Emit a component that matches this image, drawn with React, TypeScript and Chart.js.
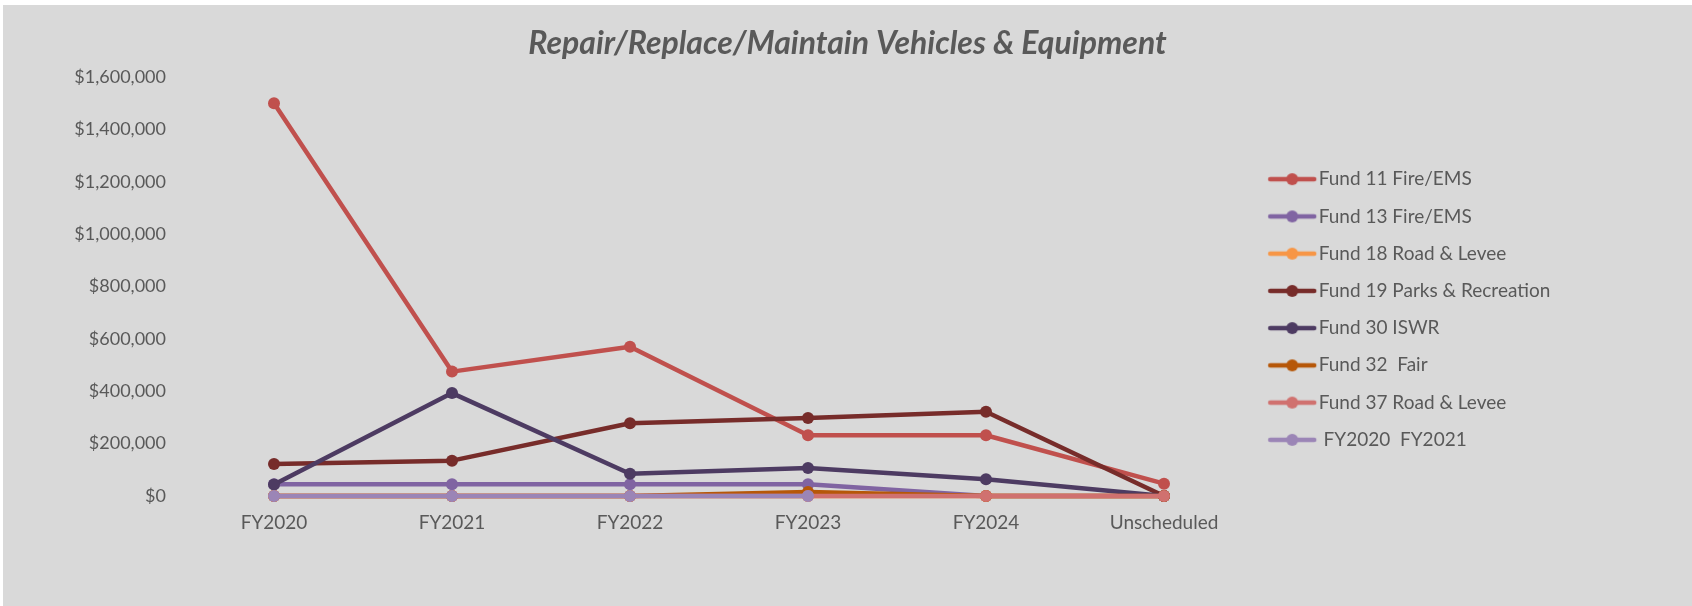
import React, { useEffect, useRef } from "react";
import { Chart, registerables } from "chart.js";

Chart.register(...registerables);

// ---- Data ----
const categories = ["FY2020", "FY2021", "FY2022", "FY2023", "FY2024", "Unscheduled"];

const fund11FireEMS = [1500000, 475000, 570000, 232000, 232000, 47000];
const fund13FireEMS = [45000, 45000, 45000, 45000, 0, 0];
const fund18RoadLevee = [0, 0, 0, 0, 0, 0];
const fund19ParksRec = [122000, 135000, 278000, 298000, 322000, 0];
const fund30ISWR = [44000, 393000, 85000, 107000, 64000, 0];
const fund32Fair = [0, 0, 0, 15000, 0, 0];
const fund37RoadLevee = [0, 0, 0, 0, 0, 0];
const fy2020fy2021 = [0, 0, 0, 0, null, null];

const seriesNames = [
  "Fund 11 Fire/EMS",
  "Fund 13 Fire/EMS",
  "Fund 18 Road & Levee",
  "Fund 19 Parks & Recreation",
  "Fund 30 ISWR",
  "Fund 32  Fair",
  "Fund 37 Road & Levee",
  " FY2020  FY2021",
];
const seriesValues = [
  fund11FireEMS,
  fund13FireEMS,
  fund18RoadLevee,
  fund19ParksRec,
  fund30ISWR,
  fund32Fair,
  fund37RoadLevee,
  fy2020fy2021,
];
const seriesColors = [
  "#C0504D",
  "#8064A2",
  "#F79646",
  "#772C2A",
  "#4D3B62",
  "#B65708",
  "#D0716F",
  "#9B85B6",
];

const yMin = 0;
const yMax = 1600000;
const yStep = 200000;

const titleText = "Repair/Replace/Maintain Vehicles & Equipment";

const TEXT = "#595959";
const FONT = "Lato, 'Open Sans', sans-serif";

function makeSwatch(color: string): HTMLCanvasElement {
  const c = document.createElement("canvas");
  c.width = 60;
  c.height = 16;
  const ctx = c.getContext("2d")!;
  ctx.strokeStyle = color;
  ctx.lineWidth = 4.5;
  ctx.lineCap = "round";
  ctx.beginPath();
  ctx.moveTo(10, 8);
  ctx.lineTo(54, 8);
  ctx.stroke();
  ctx.fillStyle = color;
  ctx.beginPath();
  ctx.arc(32, 8, 6, 0, Math.PI * 2);
  ctx.fill();
  return c;
}

// lets the y tick labels and legend text draw beyond their narrow layout boxes
const unclipPlugin = {
  id: "unclipLabels",
  afterLayout(chart: any) {
    const y = chart.scales.y;
    if (y) y.left = 0;
    if (chart.legend) {
      chart.legend.right = chart.width;
      chart.legend.width = chart.width - chart.legend.left;
    }
  },
};

export default function App() {
  const ref = useRef<HTMLCanvasElement | null>(null);

  useEffect(() => {
    if (!ref.current) return;
    const n = seriesNames.length;
    const swatches = seriesColors.map((c) => makeSwatch(c));
    const datasets = seriesNames.map((name, i) => ({
      label: name,
      data: seriesValues[i],
      borderColor: seriesColors[i],
      backgroundColor: seriesColors[i],
      pointBackgroundColor: seriesColors[i],
      pointBorderColor: seriesColors[i],
      borderWidth: 4.5,
      pointRadius: 6,
      pointBorderWidth: 0,
      pointHoverRadius: 6,
      borderCapStyle: "round" as const,
      borderJoinStyle: "round" as const,
      tension: 0,
      spanGaps: false,
      clip: false as const,
      order: n - i,
    }));

    const chart = new Chart(ref.current, {
      type: "line",
      data: { labels: categories, datasets },
      plugins: [unclipPlugin],
      options: {
        responsive: false,
        animation: false,
        devicePixelRatio: 1,
        layout: { padding: { left: 159, right: 159, top: 8, bottom: 0 } },
        plugins: {
          tooltip: { enabled: false },
          title: {
            display: true,
            text: titleText,
            color: TEXT,
            font: { family: FONT, size: 32, weight: "bold", style: "italic" },
            padding: { top: 11.8, bottom: 13.8 },
          },
          legend: {
            display: true,
            position: "right",
            align: "center",
            maxWidth: 280,
            labels: {
              usePointStyle: true,
              pointStyleWidth: 38,
              padding: 18.24,
              color: TEXT,
              font: { family: FONT, size: 19 },
              generateLabels: (ch: any) =>
                ch.data.datasets.map((ds: any, i: number) => ({
                  text: ds.label,
                  fillStyle: ds.borderColor,
                  strokeStyle: ds.borderColor,
                  lineWidth: 0,
                  pointStyle: swatches[i],
                  hidden: !ch.isDatasetVisible(i),
                  datasetIndex: i,
                  fontColor: TEXT,
                })),
            },
          },
        },
        scales: {
          x: {
            type: "category",
            offset: true,
            grid: { display: false, drawTicks: false },
            border: { display: false },
            ticks: {
              color: TEXT,
              font: { family: FONT, size: 19 },
              padding: 15.6,
              autoSkip: false,
              maxRotation: 0,
            },
            afterFit: (s: any) => {
              s.height = 110;
            },
          },
          y: {
            type: "linear",
            min: yMin,
            max: yMax,
            grid: { display: false, drawTicks: false },
            border: { display: false },
            ticks: {
              stepSize: yStep,
              color: TEXT,
              font: { family: FONT, size: 18 },
              padding: 19,
              callback: (v: any) => "$" + Number(v).toLocaleString("en-US"),
            },
            afterFit: (s: any) => {
              s.width = 23;
            },
          },
        },
      },
    });
    return () => chart.destroy();
  }, []);

  return (
    <div
      style={{
        position: "absolute",
        left: 3,
        top: 5,
        width: 1689,
        height: 601,
        background: "#D9D9D9",
      }}
    >
      <canvas ref={ref} width={1689} height={601} style={{ width: 1689, height: 601, display: "block" }} />
    </div>
  );
}
